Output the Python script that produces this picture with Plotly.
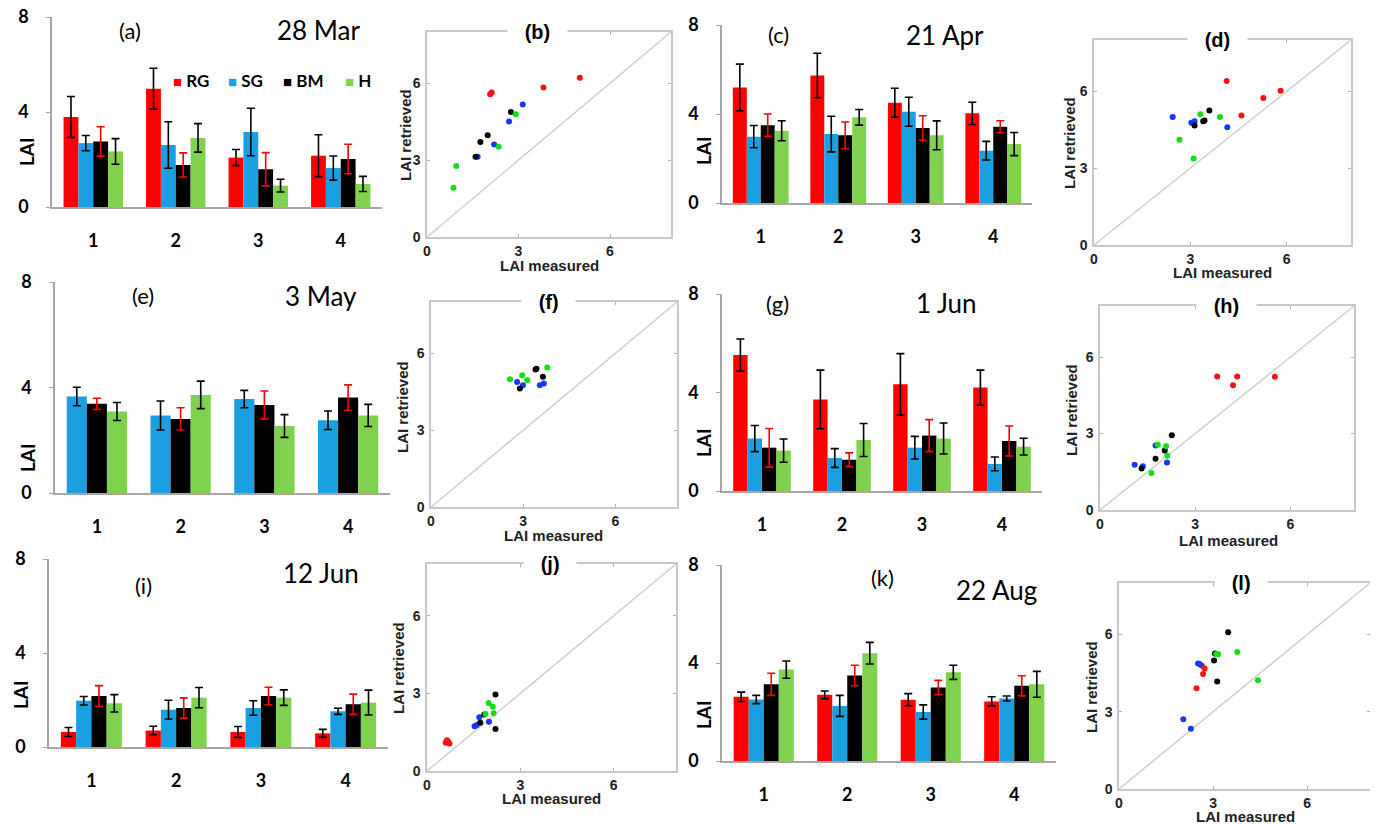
import plotly.graph_objects as go

# page body has an 8px margin: the figure is drawn 8px in from the top-left
OFF = 8
W, H = 1378 - OFF, 825 - OFF

categories = ["1", "2", "3", "4"]

# ---------------- bar panels: mean LAI and error (per treatment) ----------------
mar28_mean = {"RG": [3.79, 4.98, 2.08, 2.16], "SG": [2.69, 2.61, 3.16, 1.64],
              "BM": [2.76, 1.77, 1.59, 2.02], "H": [2.34, 2.91, 0.90, 0.97]}
mar28_err = {"RG": [0.86, 0.86, 0.34, 0.88], "SG": [0.32, 0.98, 1.00, 0.51],
             "BM": [0.62, 0.51, 0.70, 0.62], "H": [0.54, 0.60, 0.27, 0.32]}

apr21_mean = {"RG": [5.19, 5.73, 4.51, 4.03], "SG": [2.98, 3.10, 4.10, 2.35],
              "BM": [3.50, 3.04, 3.37, 3.43], "H": [3.25, 3.85, 3.04, 2.65]}
apr21_err = {"RG": [1.05, 1.00, 0.65, 0.50], "SG": [0.50, 0.80, 0.65, 0.42],
             "BM": [0.50, 0.60, 0.55, 0.27], "H": [0.45, 0.35, 0.65, 0.52]}

may3_mean = {"SG": [3.66, 2.94, 3.56, 2.76], "BM": [3.38, 2.81, 3.34, 3.62],
             "H": [3.09, 3.72, 2.54, 2.94]}
may3_err = {"SG": [0.35, 0.55, 0.33, 0.35], "BM": [0.21, 0.42, 0.53, 0.48],
            "H": [0.34, 0.52, 0.43, 0.42]}

jun1_mean = {"RG": [5.52, 3.72, 4.33, 4.20], "SG": [2.13, 1.34, 1.76, 1.10],
             "BM": [1.76, 1.27, 2.25, 2.03], "H": [1.64, 2.07, 2.13, 1.80]}
jun1_err = {"RG": [0.65, 1.19, 1.25, 0.71], "SG": [0.53, 0.38, 0.46, 0.28],
            "BM": [0.78, 0.28, 0.65, 0.61], "H": [0.47, 0.67, 0.63, 0.34]}

jun12_mean = {"RG": [0.64, 0.70, 0.64, 0.58], "SG": [1.97, 1.59, 1.66, 1.52],
              "BM": [2.17, 1.66, 2.17, 1.82], "H": [1.86, 2.10, 2.10, 1.89]}
jun12_err = {"RG": [0.19, 0.18, 0.23, 0.17], "SG": [0.18, 0.40, 0.31, 0.13],
             "BM": [0.44, 0.43, 0.37, 0.43], "H": [0.37, 0.43, 0.33, 0.53]}

aug22_mean = {"RG": [2.62, 2.70, 2.50, 2.43], "SG": [2.51, 2.25, 2.00, 2.55],
              "BM": [3.13, 3.49, 3.00, 3.07], "H": [3.73, 4.40, 3.62, 3.13]}
aug22_err = {"RG": [0.19, 0.16, 0.25, 0.19], "SG": [0.17, 0.43, 0.29, 0.10],
             "BM": [0.45, 0.42, 0.29, 0.41], "H": [0.35, 0.44, 0.29, 0.53]}

# ---------------- scatter panels: (measured, retrieved) ----------------
b_meas = {"RG": [2.07, 2.12, 3.82, 5.01], "SG": [1.66, 2.20, 2.69, 3.14],
          "BM": [1.59, 1.75, 1.99, 2.75], "H": [0.87, 0.96, 2.35, 2.91]}
b_retr = {"RG": [5.57, 5.64, 5.83, 6.21], "SG": [3.13, 3.61, 4.51, 5.17],
          "BM": [3.13, 3.71, 3.97, 4.88], "H": [1.92, 2.77, 3.52, 4.79]}

d_meas = {"RG": [4.13, 4.59, 5.27, 5.81], "SG": [2.45, 3.03, 3.13, 4.15],
          "BM": [3.13, 3.40, 3.44, 3.59], "H": [2.66, 3.10, 3.31, 3.92]}
d_retr = {"RG": [6.40, 5.05, 5.74, 6.02], "SG": [5.00, 4.77, 4.83, 4.60],
          "BM": [4.66, 4.83, 4.86, 5.25], "H": [4.11, 3.38, 5.10, 5.00]}

f_meas = {"SG": [2.80, 2.99, 3.54, 3.67], "BM": [2.89, 3.40, 3.43, 3.64],
          "H": [2.57, 2.97, 3.13, 3.78]}
f_retr = {"SG": [4.88, 4.75, 4.75, 4.82], "BM": [4.62, 5.37, 5.40, 5.08],
          "H": [4.99, 5.14, 4.95, 5.44]}

h_meas = {"RG": [3.69, 4.19, 4.32, 5.51], "SG": [1.09, 1.35, 1.75, 2.11],
          "BM": [1.31, 1.75, 2.04, 2.26], "H": [1.62, 1.82, 2.08, 2.12]}
h_retr = {"RG": [5.24, 4.89, 5.24, 5.23], "SG": [1.77, 1.72, 2.53, 1.86],
          "BM": [1.63, 2.01, 2.33, 2.93], "H": [1.45, 2.56, 2.50, 2.13]}

j_meas = {"RG": [0.60, 0.64, 0.68, 0.72], "SG": [1.53, 1.60, 1.68, 1.99],
          "BM": [1.71, 1.84, 2.20, 2.20], "H": [1.88, 1.98, 2.11, 2.14]}
j_retr = {"RG": [1.09, 1.19, 1.14, 1.06], "SG": [1.73, 1.78, 2.08, 1.90],
          "BM": [1.86, 2.18, 2.96, 1.62], "H": [2.20, 2.63, 2.48, 2.23]}

l_meas = {"RG": [2.47, 2.64, 2.68, 2.73], "SG": [2.05, 2.29, 2.52, 2.58],
          "BM": [3.03, 3.06, 3.13, 3.48], "H": [3.10, 3.16, 3.77, 4.43]}
l_retr = {"RG": [3.91, 4.79, 4.47, 4.68], "SG": [2.71, 2.34, 4.87, 4.84],
          "BM": [4.99, 5.26, 4.17, 6.09], "H": [5.24, 5.23, 5.32, 4.22]}

one_to_one = [0, 8]
treatments = ["RG", "SG", "BM", "H"]

# ---------------- styling ----------------
bar_colors = {"RG": "#FF0000", "SG": "#1AA0E0", "BM": "#000000", "H": "#7ED24E"}
err_colors = {"RG": "#000000", "SG": "#000000", "BM": "#FF0000", "H": "#000000"}
pt_colors = {"RG": "#FF1010", "SG": "#1438FF", "BM": "#000000", "H": "#10E010"}

BAR_FONT = "Lato"
SC_FONT = "Liberation Sans"


def px(x):
    return (x - OFF) / W


def py(y):
    return 1 - (y - OFF) / H


def axname(i, k):
    return f"{k}axis" + ("" if i == 1 else str(i))


def axref(i, k):
    return k + ("" if i == 1 else str(i))


def note(text, x, y, font, angle=0, xanchor="center", **kw):
    return dict(text=text, x=px(x), y=py(y), xref="paper", yref="paper",
                showarrow=False, xanchor=xanchor, yanchor="middle",
                textangle=angle, font=font, **kw)


fig = go.Figure()
layout = {}
annotations = []

# bar panels: (index, label, date, means, errs, x0, x1, ytop, ybot, labelpos, datepos, LAIpos)
bar_panels = [
    (1, "(a)", "28 Mar", mar28_mean, mar28_err, 52, 382, 17, 207, (130, 30), (318, 30), (26, 152)),
    (3, "(c)", "21 Apr", apr21_mean, apr21_err, 722, 1032, 25, 203, (779, 35), (945, 35), (704, 150)),
    (5, "(e)", "3 May", may3_mean, may3_err, 55, 390, 282, 493, (143, 295), (321, 296), (28, 458)),
    (7, "(g)", "1 Jun", jun1_mean, jun1_err, 722, 1042, 294, 491, (777, 303), (946, 303), (703, 443)),
    (9, "(i)", "12 Jun", jun12_mean, jun12_err, 49, 388, 559, 747, (143, 585), (321, 573), (20, 695)),
    (11, "(k)", "22 Aug", aug22_mean, aug22_err, 722, 1056, 565, 761, (882, 577), (996, 590), (703, 715)),
]

for (i, lab, date, means, errs, x0, x1, yt, yb, lp, dp, tp) in bar_panels:
    for s in means:
        fig.add_trace(go.Bar(
            x=categories, y=means[s], name=s, legendgroup=s, showlegend=False,
            marker=dict(color=bar_colors[s], line=dict(width=0)),
            error_y=dict(type="data", array=errs[s], color=err_colors[s],
                         thickness=1.6, width=4),
            xaxis=axref(i, "x"), yaxis=axref(i, "y"),
        ))
    layout[axname(i, "x")] = dict(
        domain=[px(x0), px(x1)], anchor=axref(i, "y"), type="category",
        showline=True, linecolor="#A6A6A6", linewidth=1.5, ticks="",
        showgrid=False, zeroline=False, ticklabelstandoff=17, automargin=False,
        ticklabeloverflow="allow",
        tickfont=dict(family=BAR_FONT, size=18, color="black", weight="bold"),
    )
    layout[axname(i, "y")] = dict(
        domain=[py(yb), py(yt)], anchor=axref(i, "x"), range=[0, 8],
        tickvals=[0, 4, 8], showline=True, linecolor="#A6A6A6", linewidth=1.5,
        ticks="outside", ticklen=4, tickcolor="#A6A6A6", showgrid=False,
        zeroline=False, ticklabelstandoff=14, automargin=False,
        ticklabeloverflow="allow",
        tickfont=dict(family=BAR_FONT, size=18, color="black", weight="bold"),
    )
    annotations.append(note(lab, lp[0], lp[1], dict(family=BAR_FONT, size=22, color="black")))
    annotations.append(note(date, dp[0], dp[1], dict(family=BAR_FONT, size=26, color="black")))
    annotations.append(note("LAI", tp[0], tp[1],
                            dict(family=BAR_FONT, size=19, color="black", weight="bold"),
                            angle=-90))

# legend of panel (a): coloured squares + treatment names
legend_left = [171, 226, 281, 343]
for s, lx in zip(treatments, legend_left):
    annotations.append(note(
        f"<span style='color:{bar_colors[s]};font-size:15px'>■</span> {s}", lx, 80,
        dict(family=BAR_FONT, size=17, color="black", weight="bold"), xanchor="left"))

# scatter panels: (index, label, meas, retr, x0, x1, ytop, ybot, titlex, xtitle_pos, ytitle_pos)
sc_panels = [
    (2, "(b)", b_meas, b_retr, 427, 671, 32, 237, 537, (549, 265), (405, 135)),
    (4, "(d)", d_meas, d_retr, 1094, 1351, 40, 245, 1217, (1222, 272), (1070, 143)),
    (6, "(f)", f_meas, f_retr, 431, 677, 302, 507, 548, (553, 535), (402, 407)),
    (8, "(h)", h_meas, h_retr, 1100, 1354, 306, 510, 1226, (1228, 540), (1072, 410)),
    (10, "(j)", j_meas, j_retr, 427, 676, 564, 771, 550, (551, 798), (398, 668)),
    (12, "(l)", l_meas, l_retr, 1119, 1370, 583, 789, 1241, (1245, 816), (1091, 687)),
]

for (i, lab, meas, retr, x0, x1, yt, yb, tx, xtp, ytp) in sc_panels:
    fig.add_trace(go.Scatter(
        x=one_to_one, y=one_to_one, mode="lines", showlegend=False, hoverinfo="skip",
        line=dict(color="#C8C8C8", width=1.3),
        xaxis=axref(i, "x"), yaxis=axref(i, "y"),
    ))
    for s in meas:
        fig.add_trace(go.Scatter(
            x=meas[s], y=retr[s], mode="markers", name=s, showlegend=False,
            marker=dict(color=pt_colors[s], size=6, line=dict(width=0)),
            xaxis=axref(i, "x"), yaxis=axref(i, "y"),
        ))
    common = dict(range=[0, 8], tickvals=[0, 3, 6], showline=True, linecolor="#C8C8C8",
                  linewidth=1.5, mirror="ticks", ticks="inside", ticklen=3,
                  tickcolor="#B0B0B0", showgrid=False, zeroline=False, automargin=False,
                  ticklabeloverflow="allow",
                  tickfont=dict(family=SC_FONT, size=14, color="#222222", weight="bold"))
    layout[axname(i, "x")] = dict(domain=[px(x0), px(x1)], anchor=axref(i, "y"),
                                  ticklabelstandoff=0, **common)
    layout[axname(i, "y")] = dict(domain=[py(yb), py(yt)], anchor=axref(i, "x"),
                                  ticklabelstandoff=2, **common)
    pad = "\u00a0\u00a0\u00a0"
    annotations.append(note(pad + lab + pad, tx, yt,
                            dict(family=SC_FONT, size=20, color="black", weight="bold"),
                            bgcolor="white", borderpad=0))
    annotations.append(note("LAI measured", xtp[0], xtp[1],
                            dict(family=SC_FONT, size=15, color="#222222", weight="bold")))
    annotations.append(note("LAI retrieved", ytp[0], ytp[1],
                            dict(family=SC_FONT, size=15, color="#222222", weight="bold"),
                            angle=-90))

fig.update_layout(
    template="none",
    width=W, height=H, margin=dict(l=0, r=0, t=0, b=0, pad=0, autoexpand=False),
    paper_bgcolor="white", plot_bgcolor="white",
    barmode="group", bargap=0.28, bargroupgap=0,
    showlegend=False,
    annotations=annotations,
    **layout,
)

fig.write_html("out.html")
